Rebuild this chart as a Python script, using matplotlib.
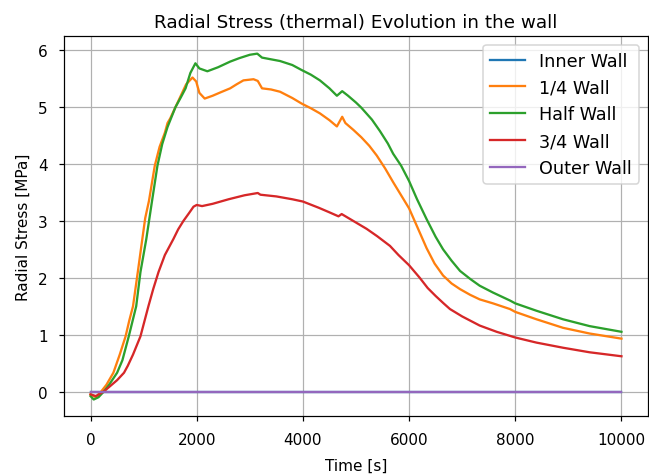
import numpy as np
import matplotlib
matplotlib.use("Agg")
import matplotlib.pyplot as plt

# Time samples [s] and radial thermal stress [MPa] at each wall position
t_quarter = [0, 100, 200, 300, 430, 550, 660, 730, 800, 890, 975, 1030, 1100, 1210,
             1300, 1400, 1450, 1500, 1600, 1700, 1800, 1920, 1990, 2050, 2150, 2300,
             2450, 2630, 2750, 2880, 3070, 3150, 3230, 3400, 3570, 3800, 3980, 4150,
             4320, 4500, 4640, 4740, 4800, 4950, 5100, 5250, 5390, 5550, 5700, 5850,
             6000, 6170, 6330, 6480, 6640, 6800, 6960, 7150, 7330, 7580, 7900, 8000,
             8400, 8900, 9400, 10000]
s_quarter = [-0.05, -0.10, 0.00, 0.12, 0.33, 0.65, 0.97, 1.25, 1.50, 2.10, 2.68, 3.05,
             3.35, 3.97, 4.30, 4.55, 4.72, 4.80, 5.00, 5.20, 5.40, 5.52, 5.45, 5.25,
             5.15, 5.20, 5.26, 5.33, 5.40, 5.47, 5.49, 5.46, 5.33, 5.31, 5.27, 5.16,
             5.06, 4.98, 4.89, 4.77, 4.66, 4.83, 4.72, 4.60, 4.47, 4.32, 4.15, 3.92,
             3.68, 3.45, 3.22, 2.86, 2.52, 2.25, 2.04, 1.90, 1.80, 1.70, 1.62, 1.55,
             1.45, 1.40, 1.27, 1.12, 1.02, 0.93]

t_half = [0, 60, 150, 250, 350, 500, 600, 720, 860, 940, 1050, 1150, 1260, 1350,
          1450, 1600, 1700, 1790, 1880, 1975, 2050, 2200, 2400, 2630, 2800, 3000,
          3140, 3230, 3570, 3800, 3980, 4150, 4320, 4500, 4640, 4740, 4850, 5000,
          5100, 5300, 5450, 5600, 5700, 5850, 6000, 6150, 6330, 6500, 6640, 6800,
          6960, 7150, 7330, 7580, 7900, 8000, 8400, 8900, 9400, 10000]
s_half = [-0.08, -0.14, -0.10, 0.00, 0.12, 0.33, 0.55, 0.97, 1.50, 2.10, 2.68, 3.30,
          3.97, 4.35, 4.65, 5.00, 5.17, 5.33, 5.60, 5.77, 5.68, 5.63, 5.70, 5.80,
          5.86, 5.92, 5.94, 5.87, 5.81, 5.74, 5.65, 5.57, 5.47, 5.33, 5.20, 5.28,
          5.20, 5.08, 4.99, 4.78, 4.58, 4.36, 4.18, 3.97, 3.70, 3.38, 3.03, 2.72,
          2.50, 2.30, 2.12, 1.98, 1.86, 1.74, 1.60, 1.55, 1.42, 1.27, 1.15, 1.05]

t_three_q = [0, 100, 250, 400, 500, 630, 700, 800, 940, 1090, 1180, 1280, 1400, 1560,
             1650, 1750, 1850, 1940, 2000, 2100, 2300, 2600, 2900, 3150, 3200, 3500,
             3800, 4000, 4300, 4500, 4670, 4730, 5200, 5400, 5640, 5800, 6000, 6200,
             6350, 6500, 6650, 6770, 7000, 7330, 7650, 8000, 8400, 8900, 9400, 10000]
s_three_q = [-0.05, -0.08, 0.00, 0.12, 0.20, 0.33, 0.45, 0.65, 0.97, 1.50, 1.80, 2.10,
             2.40, 2.68, 2.85, 3.00, 3.13, 3.25, 3.28, 3.26, 3.30, 3.38, 3.45, 3.49,
             3.46, 3.43, 3.38, 3.34, 3.23, 3.15, 3.08, 3.12, 2.86, 2.73, 2.56, 2.40,
             2.22, 2.00, 1.82, 1.68, 1.55, 1.45, 1.32, 1.16, 1.05, 0.95, 0.86, 0.77,
             0.69, 0.62]

t_edge = [0, 10000]
s_inner = [0.0, 0.0]
s_outer = [0.0, 0.0]

DPI = 110
fig = plt.figure(figsize=(649 / DPI, 477 / DPI), dpi=DPI)
ax = fig.add_axes([64 / 649, 1 - 417 / 477, (648 - 64) / 649, (417 - 37) / 477])

ax.plot(t_edge, s_inner, color="tab:blue", label="Inner Wall")
ax.plot(t_quarter, s_quarter, color="tab:orange", label="1/4 Wall")
ax.plot(t_half, s_half, color="tab:green", label="Half Wall")
ax.plot(t_three_q, s_three_q, color="tab:red", label="3/4 Wall")
ax.plot(t_edge, s_outer, color="tab:purple", label="Outer Wall")

ax.set_xlim(-500, 10500)
ax.set_ylim(-0.43, 6.25)
ax.set_xticks([0, 2000, 4000, 6000, 8000, 10000])
ax.set_yticks([0, 1, 2, 3, 4, 5, 6])
ax.tick_params(pad=7)
ax.grid(True)

ax.set_title("Radial Stress (thermal) Evolution in the wall")
ax.set_xlabel("Time [s]", labelpad=7)
ax.set_ylabel("Radial Stress [MPa]", labelpad=5)
ax.legend(loc="upper right", fontsize=11.5)

fig.savefig("out.png", dpi=DPI)
